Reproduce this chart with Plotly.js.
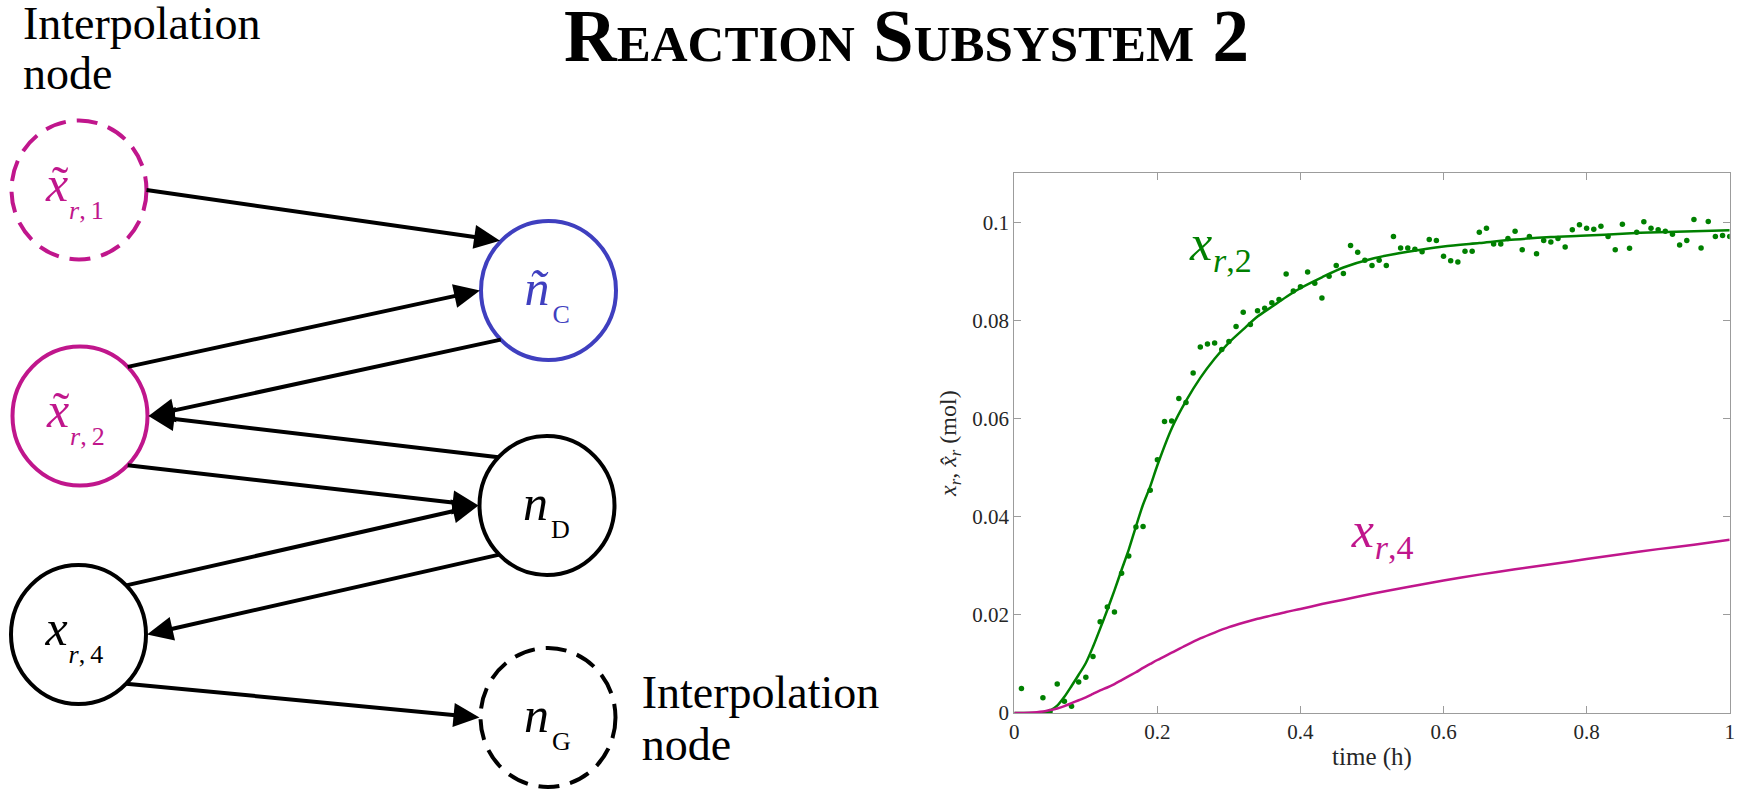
<!DOCTYPE html>
<html>
<head>
<meta charset="utf-8">
<script src="https://cdn.plot.ly/plotly-3.0.1.min.js"></script>
<style>
  html, body { margin: 0; padding: 0; background: #fff; }
  #chart { width: 1741px; height: 789px; }
</style>
</head>
<body>
<div id="chart"></div>
<script>
// ---- measured samples of x_{r,2} (mol) ----
const tMeas = [0.01, 0.04, 0.05, 0.06, 0.07, 0.08, 0.09, 0.10, 0.11, 0.12, 0.13, 0.14, 0.15, 0.16, 0.17, 0.18, 0.19,
  0.20, 0.21, 0.22, 0.23, 0.24, 0.25, 0.26, 0.27, 0.28, 0.29, 0.30, 0.31, 0.32, 0.33, 0.34, 0.35, 0.36, 0.37, 0.38, 0.39,
  0.40, 0.41, 0.42, 0.43, 0.44, 0.45, 0.46, 0.47, 0.48, 0.49, 0.50, 0.51, 0.52, 0.53, 0.54, 0.55, 0.56, 0.57, 0.58, 0.59,
  0.60, 0.61, 0.62, 0.63, 0.64, 0.65, 0.66, 0.67, 0.68, 0.69, 0.70, 0.71, 0.72, 0.73, 0.74, 0.75, 0.76, 0.77, 0.78, 0.79,
  0.80, 0.81, 0.82, 0.83, 0.84, 0.85, 0.86, 0.87, 0.88, 0.89, 0.90, 0.91, 0.92, 0.93, 0.94, 0.95, 0.96, 0.97, 0.98, 0.99, 1.00];
const xr2Meas = [0.0050, 0.0031, 0.0003, 0.0059, 0.0024, 0.0014, 0.0063, 0.0073, 0.0115, 0.0186, 0.0216, 0.0206, 0.0285, 0.0320, 0.0379, 0.0380, 0.0454,
  0.0516, 0.0594, 0.0595, 0.0641, 0.0633, 0.0693, 0.0746, 0.0752, 0.0754, 0.0741, 0.0757, 0.0788, 0.0817, 0.0792, 0.0820, 0.0825, 0.0836, 0.0843, 0.0895, 0.0860,
  0.0869, 0.0899, 0.0876, 0.0846, 0.0890, 0.0912, 0.0896, 0.0953, 0.0939, 0.0923, 0.0912, 0.0923, 0.0912, 0.0971, 0.0948, 0.0948, 0.0945, 0.0940, 0.0965, 0.0963,
  0.0931, 0.0922, 0.0919, 0.0941, 0.0941, 0.0980, 0.0988, 0.0956, 0.0956, 0.0967, 0.0982, 0.0944, 0.0971, 0.0936, 0.0963, 0.0960, 0.0967, 0.0950, 0.0985, 0.0995,
  0.0988, 0.0986, 0.0992, 0.0971, 0.0944, 0.0996, 0.0947, 0.0980, 0.1001, 0.0988, 0.0985, 0.0982, 0.0976, 0.0954, 0.0963, 0.1006, 0.0948, 0.1002, 0.0971, 0.0973, 0.0971];

// ---- simulated trajectories (mol) ----
const tModel = [0, 0.02, 0.04, 0.05, 0.06, 0.07, 0.08, 0.09, 0.10, 0.11, 0.12, 0.13, 0.14, 0.15, 0.16, 0.17, 0.18, 0.19,
  0.20, 0.22, 0.24, 0.26, 0.28, 0.30, 0.32, 0.34, 0.36, 0.38, 0.40, 0.43, 0.46, 0.50, 0.55, 0.60, 0.65, 0.70, 0.75, 0.80,
  0.85, 0.90, 0.95, 1.00];
const xr2Model = [0, 0, 0, 0.0005, 0.0015, 0.0033, 0.0055, 0.0078, 0.0102, 0.0135, 0.0172, 0.0210, 0.0250, 0.0292, 0.0333, 0.0380, 0.0425, 0.0462,
  0.0505, 0.0580, 0.0636, 0.0683, 0.0722, 0.0755, 0.0782, 0.0808, 0.0828, 0.0848, 0.0866, 0.0888, 0.0908, 0.0926, 0.0940, 0.0951, 0.0958, 0.0965, 0.0970, 0.0973,
  0.0977, 0.0980, 0.0982, 0.0984];
const xr4Model = [0, 0.00005, 0.0003, 0.0006, 0.0009, 0.0014, 0.0020, 0.0026, 0.0032, 0.0039, 0.0046, 0.0052, 0.0059, 0.0067, 0.0075, 0.0083, 0.0092, 0.0100,
  0.0108, 0.0123, 0.0138, 0.0152, 0.0164, 0.0175, 0.0184, 0.0192, 0.0199, 0.0206, 0.0212, 0.0222, 0.0231, 0.0243, 0.0257, 0.0270, 0.0282, 0.0293, 0.0303, 0.0314,
  0.0324, 0.0334, 0.0343, 0.0353];

// ---- tick labels ----
const xTickVals = [0, 0.2, 0.4, 0.6, 0.8, 1];
const xTickText = ['0', '0.2', '0.4', '0.6', '0.8', '1'];
const yTickVals = [0, 0.02, 0.04, 0.06, 0.08, 0.1];
const yTickText = ['0', '0.02', '0.04', '0.06', '0.08', '0.1'];

// ---- styling ----
const W = 1741, H = 789;
const SERIF = 'Liberation Serif';
const GREEN = '#008000';
const MAGENTA = '#c0168c';
const BLUE = '#3f3fbf';
const AXIS = '#9c9c9c';

// ---- network diagram (pixel geometry of the left panel) ----
const RX = 67.5, RY = 69.5;
const nodes = {
  X1: { cx: 79,    cy: 190,   color: MAGENTA, dash: true,  main: 'x', tilde: true, sub: '<i>r</i>,\u20091' },
  X2: { cx: 80,    cy: 416,   color: MAGENTA, dash: false, main: 'x', tilde: true, sub: '<i>r</i>,\u20092' },
  X4: { cx: 78.5,  cy: 634.5, color: '#000',  dash: false, main: 'x', tilde: false, sub: '<i>r</i>,\u20094' },
  NC: { cx: 548.5, cy: 290.5, color: BLUE,    dash: false, main: '\u00f1', tilde: false, sub: 'C' },
  ND: { cx: 547,   cy: 505.5, color: '#000',  dash: false, main: 'n', tilde: false, sub: 'D' },
  NG: { cx: 548,   cy: 717.5, color: '#000',  dash: true,  main: 'n', tilde: false, sub: 'G' }
};
// [from, leaving angle, to, arriving angle] ; angles in screen degrees (0 = right, 90 = down)
const edges = [
  ['X1', 0,   'NC', 225],
  ['X2', 315, 'NC', 180],
  ['NC', 135, 'X2', 0],
  ['ND', 224, 'X2', 0],
  ['X2', 45,  'ND', 180],
  ['X4', 315, 'ND', 180],
  ['ND', 135, 'X4', 0],
  ['X4', 45,  'NG', 180]
];

const px = v => v / W;
const py = v => 1 - v / H;
function onRim(n, deg, grow) {
  const a = deg * Math.PI / 180;
  return [n.cx + (RX + grow) * Math.cos(a), n.cy + (RY + grow) * Math.sin(a)];
}

const shapes = [];
for (const key in nodes) {
  const n = nodes[key];
  shapes.push({
    type: 'circle', xref: 'paper', yref: 'paper',
    x0: px(n.cx - RX), x1: px(n.cx + RX), y0: py(n.cy + RY), y1: py(n.cy - RY),
    line: { color: n.color, width: 4, dash: n.dash ? '21px,11px' : 'solid' },
    fillcolor: 'rgba(0,0,0,0)'
  });
}
const HEAD_LEN = 26, HEAD_HALF = 12;
edges.forEach(([a, angA, b, angB]) => {
  const tail = onRim(nodes[a], angA, 0);
  const tip = onRim(nodes[b], angB, 1);
  const dx = tip[0] - tail[0], dy = tip[1] - tail[1];
  const len = Math.hypot(dx, dy);
  const ux = dx / len, uy = dy / len;
  const base = [tip[0] - ux * HEAD_LEN, tip[1] - uy * HEAD_LEN];
  shapes.push({
    type: 'line', xref: 'paper', yref: 'paper',
    x0: px(tail[0]), y0: py(tail[1]), x1: px(base[0] + ux * 2), y1: py(base[1] + uy * 2),
    line: { color: '#000', width: 4 }
  });
  const l = [base[0] - uy * HEAD_HALF, base[1] + ux * HEAD_HALF];
  const r = [base[0] + uy * HEAD_HALF, base[1] - ux * HEAD_HALF];
  shapes.push({
    type: 'path', xref: 'paper', yref: 'paper',
    path: `M${px(tip[0])},${py(tip[1])} L${px(l[0])},${py(l[1])} L${px(r[0])},${py(r[1])} Z`,
    fillcolor: '#000', line: { width: 0 }
  });
});

// ---- text items on a pixel-unit overlay: [left x, baseline, text, size, colour, anchor] ----
const texts = [];
for (const key in nodes) {
  const n = nodes[key];
  const isX = n.main === 'x';
  const mx = isX ? n.cx - 33 : n.cx - 24;
  const mb = isX ? n.cy + 10.5 : n.cy + 14.5;
  const sx = isX ? n.cx - 10 : n.cx + 4;
  const sb = isX ? n.cy + 28.5 : n.cy + 32;
  texts.push([mx, mb, '<i>' + n.main + '</i>', 50, n.color, 'right']);
  if (n.tilde) texts.push([mx + 14, mb, '\u02dc', 50, n.color, 'center']);
  texts.push([sx, sb, n.sub, 26, n.color, 'right']);
}
texts.push([23, 39, 'Interpolation', 46, '#000', 'right']);
texts.push([23, 89, 'node', 46, '#000', 'right']);
texts.push([641.7, 708, 'Interpolation', 46, '#000', 'right']);
texts.push([641.7, 760, 'node', 46, '#000', 'right']);
// curve names inside the chart
texts.push([1190, 260, '<i>x</i>', 50, GREEN, 'right']);
texts.push([1213, 271.7, '<i>r</i>,2', 34, GREEN, 'right']);
texts.push([1351.7, 547, '<i>x</i>', 50, MAGENTA, 'right']);
texts.push([1374.7, 558.7, '<i>r</i>,4', 34, MAGENTA, 'right']);

// one text trace per anchor kind; Plotly puts a middle-aligned baseline 0.25em below the point
function textTrace(anchor) {
  const items = texts.filter(t => t[5] === anchor);
  return {
    type: 'scatter', mode: 'text', xaxis: 'x2', yaxis: 'y2',
    x: items.map(t => t[0]), y: items.map(t => t[1] - 0.25 * t[3]),
    text: items.map(t => t[2]),
    textposition: anchor === 'center' ? 'middle center' : 'middle right',
    textfont: { family: SERIF, size: items.map(t => t[3]), color: items.map(t => t[4]) },
    cliponaxis: false, showlegend: false, hoverinfo: 'skip'
  };
}

const data = [
  { x: tMeas, y: xr2Meas, type: 'scatter', mode: 'markers',
    marker: { color: GREEN, size: 5.5 }, showlegend: false, cliponaxis: true },
  { x: tModel, y: xr2Model, type: 'scatter', mode: 'lines',
    line: { color: GREEN, width: 2.5, shape: 'spline', smoothing: 0.8 }, showlegend: false },
  { x: tModel, y: xr4Model, type: 'scatter', mode: 'lines',
    line: { color: MAGENTA, width: 2.5, shape: 'spline', smoothing: 0.8 }, showlegend: false },
  textTrace('right'),
  textTrace('center')
];

const axisCommon = {
  showline: true, linecolor: AXIS, linewidth: 1, mirror: 'ticks',
  ticks: 'inside', ticklen: 7, tickcolor: AXIS, tickwidth: 1,
  showgrid: false, zeroline: false, fixedrange: true,
  tickfont: { family: SERIF, size: 21, color: '#262626' }
};

const layout = {
  width: W, height: H,
  margin: { l: 0, r: 0, t: 0, b: 0 },
  paper_bgcolor: '#fff', plot_bgcolor: 'rgba(0,0,0,0)',
  font: { family: SERIF },
  showlegend: false,
  title: {
    text: 'Reaction Subsystem 2',
    font: { family: SERIF, size: 73, weight: 'bold', variant: 'small-caps', color: '#000' },
    xref: 'container', x: 906.5 / W, xanchor: 'center',
    yref: 'container', y: 1 - (60.7 - 0.35 * 73) / H, yanchor: 'middle'
  },
  xaxis: Object.assign({}, axisCommon, {
    domain: [1014.3 / W, 1729.7 / W], range: [0, 1],
    tickvals: xTickVals, ticktext: xTickText,
    title: { text: 'time (h)', font: { family: SERIF, size: 25, color: '#262626' }, standoff: 4 }
  }),
  yaxis: Object.assign({}, axisCommon, {
    domain: [(H - 713) / H, (H - 173.3) / H], range: [0, 0.11],
    tickvals: yTickVals, ticktext: yTickText,
    title: { text: '<i>x</i><sub><i>r</i></sub>, <i>x\u0302</i><sub><i>r</i></sub> (mol)',
             font: { family: SERIF, size: 24, color: '#262626' }, standoff: 8 }
  }),
  // pixel-unit overlay covering the whole page, for the diagram and curve labels
  xaxis2: { domain: [0, 1], range: [0, W], visible: false, fixedrange: true, anchor: 'y2' },
  yaxis2: { domain: [0, 1], range: [H, 0], visible: false, fixedrange: true, anchor: 'x2' },
  shapes: shapes
};

Plotly.newPlot('chart', data, layout, { displayModeBar: false, staticPlot: true });
</script>
</body>
</html>
